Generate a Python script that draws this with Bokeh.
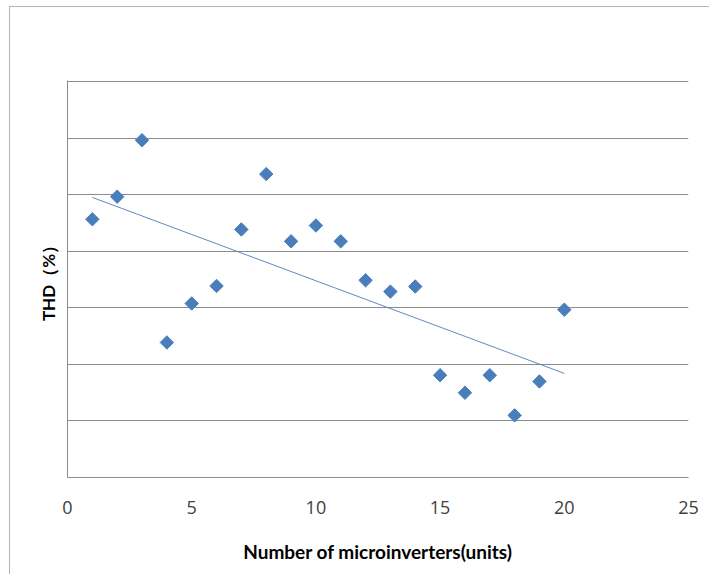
import numpy as np
from bokeh.plotting import figure
from bokeh.models import Range1d, FixedTicker, ColumnDataSource
from bokeh.embed import file_html
from bokeh.resources import INLINE

# Data (y read in grid-interval units; y tick labels are not shown in the reference)
units = [1, 2, 3, 4, 5, 6, 7, 8, 9, 10, 11, 12, 13, 14, 15, 16, 17, 18, 19, 20]
thd = [4.57, 4.97, 5.97, 2.39, 3.08, 3.39, 4.39, 5.37, 4.18, 4.46, 4.18,
       3.49, 3.29, 3.38, 1.81, 1.50, 1.81, 1.10, 1.70, 2.97]
x_ticks = [0, 5, 10, 15, 20, 25]
y_grid = [0, 1, 2, 3, 4, 5, 6, 7]

blue = "#4a7ebb"
grid_col = "#8c8c8c"

p = figure(width=700, height=568, output_backend="svg", toolbar_location=None,
           x_range=Range1d(0, 25), y_range=Range1d(0, 7.0265),
           min_border_left=57, min_border_right=22, min_border_top=73,
           min_border_bottom=98)
p.outline_line_color = None
p.background_fill_color = "white"
p.border_fill_color = "white"
p.styles = {"border-left": "1px solid #b4b4b4", "border-top": "1px solid #b4b4b4",
            "margin-left": "9px", "margin-top": "6px"}

# trend line (least squares fit of the data)
coef = np.polyfit(units, thd, 1)
tx = [units[0], units[-1]]
ty = [coef[0] * t + coef[1] for t in tx]
p.line(tx, ty, line_color=blue, line_width=1, line_alpha=0.9)

src = ColumnDataSource(dict(x=units, y=thd))
p.scatter("x", "y", source=src, marker="square", angle=np.pi / 4, size=9.5,
          fill_color=blue, line_color=blue)

# grid
p.xgrid.visible = False
p.ygrid.ticker = FixedTicker(ticks=y_grid)
p.ygrid.grid_line_color = grid_col
p.ygrid.grid_line_width = 1

# x axis
p.xaxis.ticker = FixedTicker(ticks=x_ticks)
p.xaxis.axis_line_color = grid_col
p.xaxis.major_tick_line_color = None
p.xaxis.minor_tick_line_color = None
p.xaxis.major_label_text_font = "Open Sans"
p.xaxis.major_label_text_font_size = "18px"
p.xaxis.major_label_text_color = "#404040"
p.xaxis.major_label_standoff = 17
p.xaxis.axis_label = "Number of microinverters(units)"
p.xaxis.axis_label_text_font = "Lato"
p.xaxis.axis_label_text_font_style = "bold"
p.xaxis.axis_label_text_font_size = "19px"
p.xaxis.axis_label_text_color = "#000000"
p.xaxis.axis_label_standoff = 23

# y axis
p.yaxis.ticker = FixedTicker(ticks=y_grid)
p.yaxis.axis_line_color = grid_col
p.yaxis.major_tick_line_color = None
p.yaxis.minor_tick_line_color = None
p.yaxis.major_label_text_font_size = "0px"
p.yaxis.major_label_text_alpha = 0
p.yaxis.axis_label = "THD（%）"
p.yaxis.axis_label_text_font = "Lato"
p.yaxis.axis_label_text_font_style = "bold"
p.yaxis.axis_label_text_font_size = "17px"
p.yaxis.axis_label_text_color = "#000000"
p.yaxis.axis_label_standoff = 3

open("out.html", "w").write(file_html(p, INLINE))
